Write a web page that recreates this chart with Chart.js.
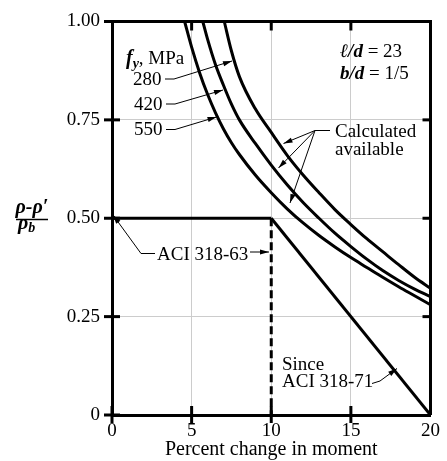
<!DOCTYPE html>
<html>
<head>
<meta charset="utf-8">
<script src="https://cdn.jsdelivr.net/npm/chart.js@4.4.1/dist/chart.umd.min.js"></script>
<style>
    html, body { margin: 0; padding: 0; background: #fff; }
</style>
</head>
<body>
<canvas id="myChart" width="447" height="461"></canvas>
<script>
// axis ticks
const xTickValues = [0, 5, 10, 15, 20];
const yTickValues = [0, 0.25, 0.5, 0.75, 1];
const yTickLabels = ['0', '0.25', '0.50', '0.75', '1.00'];

// calculated available redistribution, fy = 280 MPa
const pct280 = [7.05, 7.5, 8, 9, 10, 11, 12, 13, 14, 15, 16, 17, 18, 19, 20];
const ratio280 = [1.00, 0.925, 0.86, 0.778, 0.718, 0.66, 0.61, 0.565, 0.522, 0.484, 0.448, 0.415, 0.382, 0.35, 0.322];

// fy = 420 MPa
const pct420 = [5.7, 6, 6.5, 7, 7.5, 8, 9, 10, 11, 12, 13, 14, 15, 16, 17, 18, 19, 20];
const ratio420 = [1.00, 0.955, 0.89, 0.838, 0.79, 0.75, 0.69, 0.635, 0.585, 0.54, 0.50, 0.462, 0.428, 0.396, 0.367, 0.342, 0.32, 0.301];

// fy = 550 MPa
const pct550 = [4.56, 5, 5.5, 6, 6.5, 7, 7.5, 8, 9, 10, 11, 12, 13, 14, 15, 16, 17, 18, 19, 20];
const ratio550 = [1.00, 0.935, 0.87, 0.815, 0.768, 0.727, 0.692, 0.662, 0.61, 0.565, 0.524, 0.488, 0.456, 0.427, 0.40, 0.375, 0.35, 0.326, 0.303, 0.28];

// code limits
const aci63X = [0, 10];
const aci63Y = [0.5, 0.5];
const aci63DropX = [10, 10];
const aci63DropY = [0.5, 0];
const aci71X = [10, 20];
const aci71Y = [0.5, 0];

const serif = "'Liberation Serif', 'Times New Roman', serif";

const toPoints = (xs, ys) => xs.map((x, i) => ({ x: x, y: ys[i] }));

const lineSet = (xs, ys, extra) => Object.assign({
    data: toPoints(xs, ys),
    borderColor: '#000',
    borderWidth: 3,
    pointRadius: 0,
    fill: false,
}, extra || {});

function drawRuns(ctx, x, y, runs) {
    let cx = x;
    ctx.textAlign = 'left';
    ctx.textBaseline = 'alphabetic';
    runs.forEach(([text, font, dy]) => {
        ctx.font = font;
        ctx.fillText(text, cx, y + (dy || 0));
        cx += ctx.measureText(text).width;
    });
}

function arrow(ctx, pts) {
    ctx.beginPath();
    ctx.moveTo(pts[0][0], pts[0][1]);
    for (let i = 1; i < pts.length; i++) ctx.lineTo(pts[i][0], pts[i][1]);
    ctx.stroke();
    const [x1, y1] = pts[pts.length - 2];
    const [x2, y2] = pts[pts.length - 1];
    const a = Math.atan2(y2 - y1, x2 - x1);
    const len = 9, hw = 2.6;
    ctx.beginPath();
    ctx.moveTo(x2, y2);
    ctx.lineTo(x2 - len * Math.cos(a) + hw * Math.sin(a), y2 - len * Math.sin(a) - hw * Math.cos(a));
    ctx.lineTo(x2 - len * Math.cos(a) - hw * Math.sin(a), y2 - len * Math.sin(a) + hw * Math.cos(a));
    ctx.closePath();
    ctx.fill();
}

const framePlugin = {
    id: 'frame',
    afterDraw(chart) {
        const ctx = chart.ctx;
        const { left, right, top, bottom } = chart.chartArea;
        const xs = chart.scales.x, ys = chart.scales.y;
        ctx.save();
        ctx.strokeStyle = '#000';
        ctx.fillStyle = '#000';

        // top and right border
        ctx.lineWidth = 3;
        ctx.beginPath();
        ctx.moveTo(left, top);
        ctx.lineTo(right, top);
        ctx.lineTo(right, bottom);
        ctx.stroke();

        // tick marks
        ctx.lineWidth = 3;
        yTickValues.forEach(v => {
            const py = ys.getPixelForValue(v);
            ctx.beginPath();
            ctx.moveTo(left - 8, py);
            ctx.lineTo(left + 8, py);
            ctx.stroke();
            if (v > 0 && v < 1) {
                ctx.beginPath();
                ctx.moveTo(right, py);
                ctx.lineTo(right - 8, py);
                ctx.stroke();
            }
        });
        xTickValues.forEach(v => {
            const px = xs.getPixelForValue(v);
            if (v < 20) {
                ctx.beginPath();
                ctx.moveTo(px, bottom - 9);
                ctx.lineTo(px, bottom + 8);
                ctx.stroke();
            }
            if (v > 0 && v < 20) {
                ctx.beginPath();
                ctx.moveTo(px, top);
                ctx.lineTo(px, top + 9);
                ctx.stroke();
            }
        });

        // y axis title as a fraction
        const bi = 'bold italic 20px ' + serif;
        ctx.textAlign = 'center';
        ctx.font = bi;
        ctx.fillText('\u03c1-\u03c1\u2032', 32, 213);
        ctx.lineWidth = 1.5;
        ctx.beginPath();
        ctx.moveTo(16, 219.5);
        ctx.lineTo(48, 219.5);
        ctx.stroke();
        drawRuns(ctx, 18, 229, [['\u03c1', bi], ['b', 'bold italic 14px ' + serif, 3]]);

        // annotations
        const reg = '19px ' + serif;
        const bold = 'bold italic 19px ' + serif;
        drawRuns(ctx, 126, 64, [['f', 'bold italic 20px ' + serif], ['y', 'bold italic 14px ' + serif, 4], [', MPa', reg]]);
        ctx.font = reg;
        ctx.textAlign = 'left';
        ctx.fillText('280', 133, 85);
        ctx.fillText('420', 134, 109.5);
        ctx.fillText('550', 134, 135);

        drawRuns(ctx, 340, 57, [['\u2113/', bold], ['d', bold], [' = 23', reg]]);
        drawRuns(ctx, 340, 79, [['b', bold], ['/', bold], ['d', bold], [' = 1/5', reg]]);

        ctx.font = reg;
        ctx.textAlign = 'left';
        ctx.fillText('Calculated', 335, 137);
        ctx.fillText('available', 335, 154.5);
        ctx.fillText('ACI 318-63', 157, 260);
        ctx.fillText('Since', 282, 370);
        ctx.fillText('ACI 318-71', 282, 387);

        ctx.lineWidth = 1;
        arrow(ctx, [[165, 79], [174, 79], [232, 61]]);
        arrow(ctx, [[166, 104], [175, 104], [223, 90]]);
        arrow(ctx, [[166, 129.5], [175, 129.5], [216.5, 117]]);

        ctx.beginPath();
        ctx.moveTo(330, 130.5);
        ctx.lineTo(315, 130.5);
        ctx.stroke();
        arrow(ctx, [[315, 130.5], [283.5, 143.5]]);
        arrow(ctx, [[315, 130.5], [278.5, 168]]);
        arrow(ctx, [[315, 130.5], [290, 203]]);

        arrow(ctx, [[155, 253.5], [141, 253.5], [113, 215]]);
        arrow(ctx, [[250, 252], [269, 252]]);
        arrow(ctx, [[372, 383.5], [380, 381], [397, 368.5]]);

        ctx.restore();
    }
};

const canvas = document.getElementById('myChart');
const canvasContext = canvas.getContext('2d');

const myChart = new Chart(canvasContext, {
    type: 'line',
    data: {
        datasets: [
            lineSet(pct280, ratio280, { label: '280', cubicInterpolationMode: 'monotone' }),
            lineSet(pct420, ratio420, { label: '420', cubicInterpolationMode: 'monotone' }),
            lineSet(pct550, ratio550, { label: '550', cubicInterpolationMode: 'monotone' }),
            lineSet(aci63X, aci63Y, { label: 'ACI 318-63' }),
            lineSet(aci63DropX, aci63DropY, { label: 'ACI 318-63 drop', borderDash: [8, 4] }),
            lineSet(aci71X, aci71Y, { label: 'Since ACI 318-71' }),
        ],
    },
    options: {
        responsive: false,
        animation: false,
        devicePixelRatio: 1,
        layout: { padding: { top: 13.5, right: 13.5, left: 0, bottom: 0 } },
        plugins: {
            legend: { display: false },
            tooltip: { enabled: false },
        },
        scales: {
            x: {
                type: 'linear',
                min: 0,
                max: 20,
                afterBuildTicks: s => { s.ticks = xTickValues.map(v => ({ value: v })); },
                afterFit: s => { s.height = 46; },
                ticks: {
                    color: '#000',
                    padding: 7,
                    maxRotation: 0,
                    font: { family: serif, size: 19, lineHeight: 1 },
                },
                grid: { color: '#cccccc', lineWidth: 1, drawTicks: false },
                border: { color: '#000', width: 3 },
                title: {
                    display: true,
                    text: 'Percent change in moment',
                    color: '#000',
                    font: { family: serif, size: 20, lineHeight: 1 },
                    padding: { top: 0, bottom: 1 },
                },
            },
            y: {
                type: 'linear',
                min: 0,
                max: 1,
                afterBuildTicks: s => { s.ticks = yTickValues.map(v => ({ value: v })); },
                afterFit: s => { s.width = 112; },
                ticks: {
                    color: '#000',
                    padding: 12,
                    font: { family: serif, size: 19, lineHeight: 1 },
                    callback: value => yTickLabels[yTickValues.indexOf(value)],
                },
                grid: { color: '#cccccc', lineWidth: 1, drawTicks: false },
                border: { color: '#000', width: 3 },
            },
        },
    },
    plugins: [framePlugin],
});
</script>
</body>
</html>
